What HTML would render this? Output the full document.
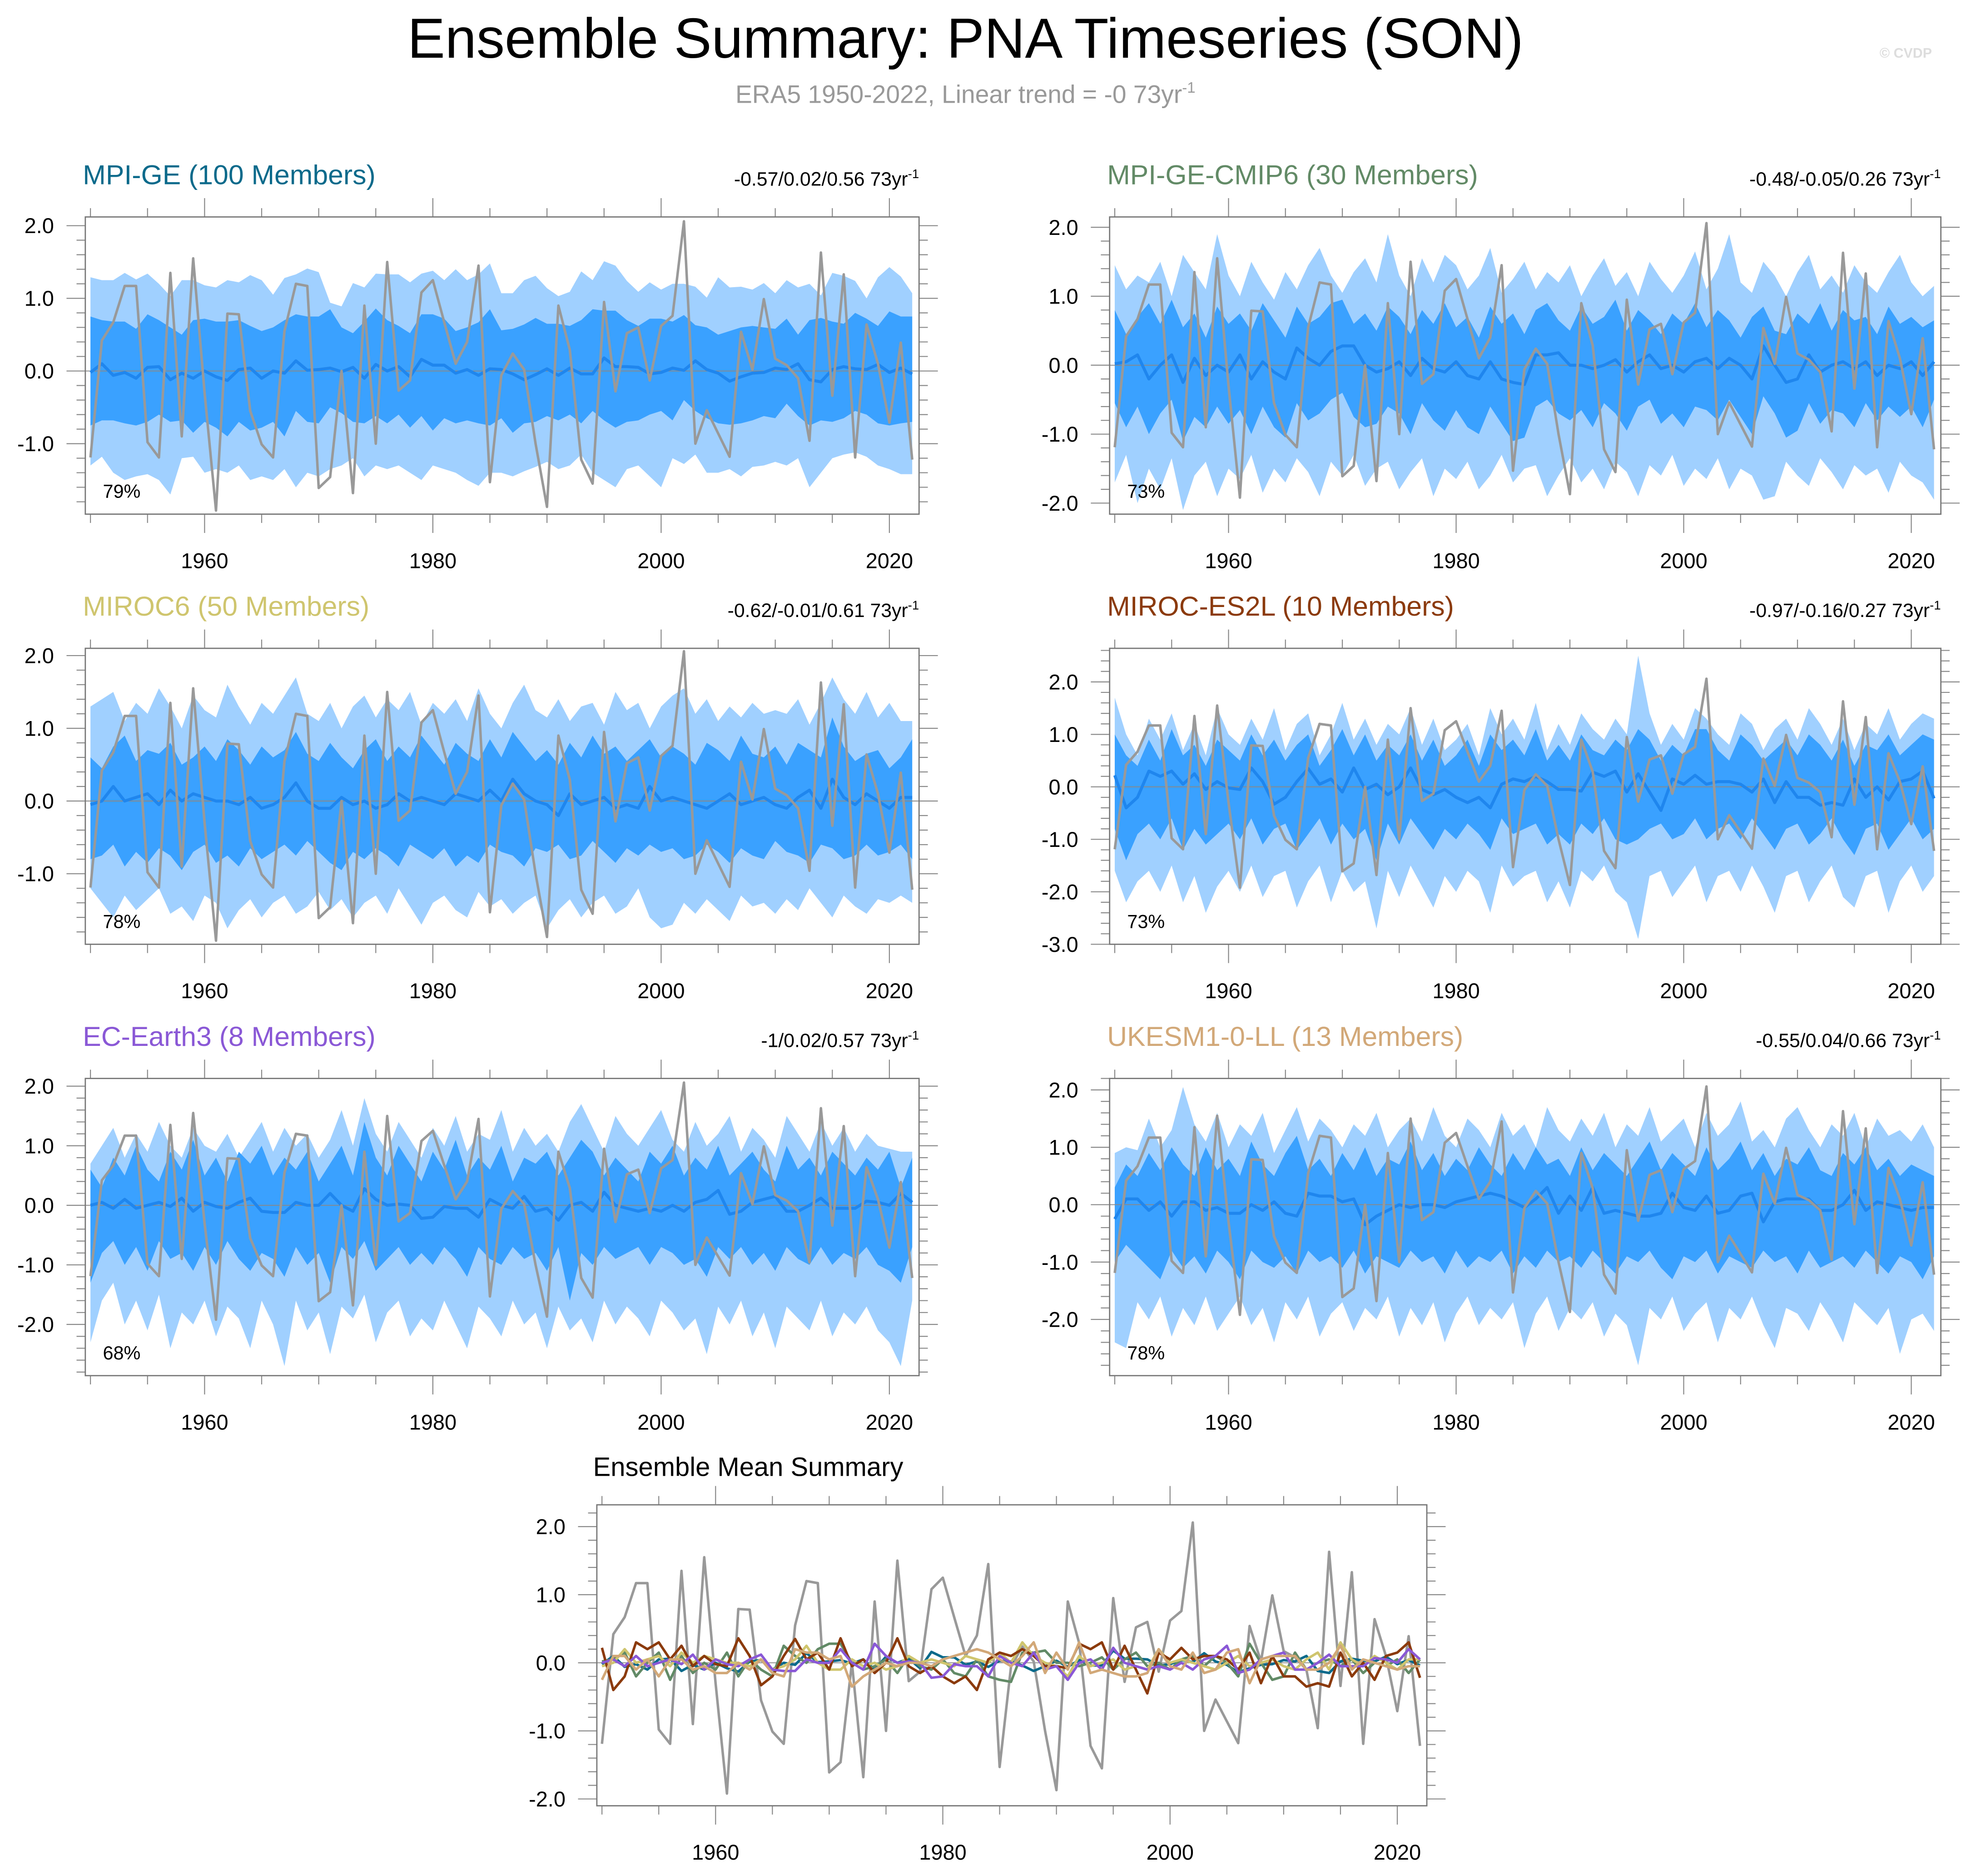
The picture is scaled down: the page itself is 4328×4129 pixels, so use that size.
<!DOCTYPE html>
<html><head><meta charset="utf-8"><title>PNA Timeseries</title>
<style>html,body{margin:0;padding:0;background:#fff}svg{display:block}text{font-family:"Liberation Sans",sans-serif}</style>
</head><body>
<svg id="chart" xmlns="http://www.w3.org/2000/svg" width="4328" height="4129" viewBox="0 0 1568 1496">
<rect x="0" y="0" width="1568" height="1496" fill="#fff"/>
<text x="770" y="46" font-size="45" text-anchor="middle" fill="#000">Ensemble Summary: PNA Timeseries (SON)</text>
<text x="770" y="82" font-size="20" text-anchor="middle" fill="#999">ERA5 1950-2022, Linear trend = -0 73yr<tspan dy="-8" font-size="12">-1</tspan></text>
<text x="1520" y="46" font-size="11" font-weight="bold" text-anchor="middle" fill="#ddd">© CVDP</text>
</svg>
<script>
const years = [];
for (let y = 1950; y <= 2022; y++) years.push(y);
const xTicks = [1960, 1980, 2000, 2020];
const era5 = [-1.19,0.42,0.67,1.17,1.17,-0.98,-1.19,1.35,-0.9,1.55,
-0.3,-1.92,0.79,0.78,-0.55,-1.01,-1.19,0.55,1.2,1.17,
-1.61,-1.46,0.0,-1.68,0.9,-1.0,1.5,-0.27,-0.13,1.08,
1.25,0.67,0.1,0.4,1.45,-1.53,-0.06,0.24,0.02,-1.0,
-1.87,0.9,0.29,-1.22,-1.55,0.95,-0.28,0.52,0.6,-0.13,
0.62,0.76,2.06,-1.0,-0.54,-0.86,-1.18,0.54,0.02,0.99,
0.17,0.08,-0.1,-0.96,1.63,-0.34,1.33,-1.19,0.64,0.1,
-0.71,0.39,-1.22];

// MPI-GE
const p1Mean = [-0.02,0.1,-0.06,-0.02,-0.1,0.05,0.06,-0.12,-0.03,-0.1,0,-0.08,-0.13,0.02,0.04,-0.1,0,-0.03,0.14,0.01,0.02,0.04,-0.01,0.05,-0.1,0.09,0,0.06,-0.08,0.16,0.08,0.08,-0.03,0.02,-0.06,0.03,0.02,-0.04,-0.12,-0.05,0.03,-0.06,0.04,-0.04,-0.04,0.18,0.06,0.06,0.05,-0.04,-0.02,0.04,0.01,0.14,0.02,-0.03,-0.14,-0.08,-0.03,-0.02,0.04,0.02,0.1,-0.12,-0.15,0.02,0.06,0.03,0.02,0.09,-0.02,0.04,-0.04];
const p1OutHi = [1.29,1.25,1.25,1.35,1.26,1.34,1.2,1.03,1.25,1.25,1.18,1.15,1.25,1.22,1.32,1.25,1.05,1.28,1.33,1.41,1.36,0.94,0.89,1.21,1.15,1.34,1.33,1.33,1.22,1.34,1.38,1.25,1.4,1.25,1.33,1.48,1.07,1.07,1.25,1.31,1.14,1.03,1.09,1.37,1.25,1.51,1.45,1.24,1.09,1.22,1.12,1.2,1.2,1.16,1.01,1.29,1.15,1.16,1.12,1.21,1.07,1.25,1.15,1.2,1.04,1.35,1.31,1.24,1.0,1.29,1.43,1.3,1.07];
const p1InHi = [0.75,0.7,0.68,0.68,0.58,0.78,0.7,0.6,0.5,0.7,0.72,0.68,0.68,0.7,0.62,0.55,0.6,0.7,0.78,0.75,0.75,0.85,0.6,0.52,0.68,0.86,0.7,0.62,0.52,0.78,0.78,0.72,0.55,0.6,0.67,0.85,0.56,0.58,0.64,0.73,0.65,0.65,0.62,0.7,0.85,0.83,0.83,0.7,0.62,0.72,0.72,0.68,0.77,0.63,0.6,0.5,0.55,0.6,0.62,0.6,0.58,0.72,0.5,0.7,0.73,0.68,0.65,0.8,0.72,0.62,0.82,0.75,0.75];
const p1InLo = [-0.75,-0.68,-0.68,-0.72,-0.75,-0.7,-0.6,-0.7,-0.68,-0.85,-0.7,-0.78,-0.9,-0.7,-0.82,-0.78,-0.7,-0.9,-0.55,-0.7,-0.72,-0.5,-0.58,-0.7,-0.72,-0.62,-0.72,-0.6,-0.78,-0.62,-0.82,-0.65,-0.72,-0.68,-0.72,-0.75,-0.65,-0.85,-0.72,-0.7,-0.62,-0.68,-0.6,-0.72,-0.55,-0.68,-0.78,-0.7,-0.68,-0.6,-0.55,-0.68,-0.4,-0.55,-0.65,-0.72,-0.74,-0.72,-0.68,-0.62,-0.65,-0.45,-0.62,-0.75,-0.68,-0.7,-0.65,-0.55,-0.6,-0.72,-0.75,-0.72,-0.7];
const p1OutLo = [-1.3,-1.18,-1.4,-1.5,-1.45,-1.42,-1.5,-1.7,-1.2,-1.18,-1.4,-1.35,-1.4,-1.3,-1.5,-1.45,-1.5,-1.35,-1.6,-1.4,-1.45,-1.35,-1.3,-1.2,-1.45,-1.3,-1.35,-1.3,-1.4,-1.5,-1.3,-1.35,-1.4,-1.5,-1.58,-1.4,-1.4,-1.45,-1.38,-1.32,-1.25,-1.35,-1.3,-1.15,-1.4,-1.5,-1.6,-1.35,-1.3,-1.45,-1.6,-1.2,-1.28,-1.15,-1.4,-1.4,-1.35,-1.45,-1.32,-1.3,-1.25,-1.3,-1.2,-1.6,-1.4,-1.2,-1.15,-1.12,-1.18,-1.3,-1.35,-1.42,-1.42];

// MPI-GE-CMIP6
const p2Mean = [0.02,0.05,0.15,-0.2,0.0,0.15,-0.25,0.1,-0.15,0.0,-0.1,0.15,-0.2,0.05,-0.1,-0.2,0.25,0.1,0.0,0.2,0.28,0.28,0.0,-0.1,-0.05,0.05,-0.15,0.1,-0.05,-0.1,0.05,-0.15,-0.2,0.05,-0.2,-0.25,-0.28,0.15,0.15,0.18,0.0,0.0,-0.05,0.0,0.08,-0.1,0.05,0.15,-0.05,0.0,-0.1,0.05,0.1,-0.05,0.1,0.0,-0.2,0.28,0.0,-0.25,-0.2,0.15,-0.1,0.0,0.05,-0.05,0.05,-0.15,0.0,-0.05,0.05,-0.15,0.05];
const p2OutHi = [1.45,1.1,1.3,1.2,1.5,1.0,1.6,1.35,1.1,1.9,1.3,1.0,1.5,1.2,0.95,1.35,1.1,1.45,1.7,1.3,1.05,1.35,1.55,1.2,1.9,1.3,1.0,1.55,1.2,1.6,1.45,1.1,1.3,1.7,1.05,1.25,1.5,1.1,1.35,1.2,1.45,1.0,1.3,1.55,1.15,1.35,1.0,1.5,1.25,1.05,1.3,1.65,1.1,1.4,1.9,1.2,1.05,1.5,1.3,1.0,1.35,1.6,1.1,1.3,1.05,1.45,1.2,1.05,1.35,1.6,1.2,1.0,1.15];
const p2InHi = [0.8,0.45,0.7,0.9,0.6,0.95,0.55,0.75,0.4,0.85,0.6,0.75,0.5,0.9,0.65,0.4,0.85,0.6,0.7,0.9,0.95,0.6,0.75,0.5,0.85,0.7,0.45,0.8,0.6,0.9,0.55,0.7,0.4,0.85,0.6,0.75,0.45,0.8,0.9,0.65,0.5,0.85,0.6,0.7,0.95,0.5,0.8,0.65,0.45,0.75,0.6,0.9,0.55,0.8,0.65,0.4,0.7,0.85,0.5,0.45,0.75,0.6,0.9,0.5,0.8,0.65,0.7,0.45,0.85,0.6,0.7,0.55,0.65];
const p2InLo = [-0.55,-0.9,-0.6,-1.0,-0.7,-0.5,-1.1,-0.75,-0.9,-0.6,-0.85,-0.65,-1.0,-0.6,-0.9,-1.05,-0.55,-0.8,-0.7,-0.5,-0.4,-0.75,-0.9,-0.85,-0.6,-0.7,-1.0,-0.55,-0.8,-0.95,-0.65,-0.9,-1.0,-0.6,-0.85,-1.1,-1.05,-0.6,-0.5,-0.7,-0.8,-0.65,-0.9,-0.55,-0.7,-0.95,-0.6,-0.5,-0.85,-0.7,-0.9,-0.6,-0.65,-0.8,-0.5,-0.75,-1.0,-0.45,-0.7,-1.05,-0.95,-0.55,-0.85,-0.65,-0.7,-0.9,-0.55,-0.8,-0.6,-0.75,-0.6,-0.9,-0.5];
const p2OutLo = [-1.7,-1.3,-2.0,-1.5,-1.8,-1.35,-2.1,-1.6,-1.4,-1.9,-1.5,-1.65,-1.3,-1.85,-1.5,-1.7,-1.35,-1.55,-1.9,-1.4,-1.6,-1.3,-1.75,-1.5,-1.4,-1.8,-1.55,-1.35,-1.9,-1.5,-1.65,-1.4,-1.8,-1.6,-1.3,-1.7,-1.5,-1.45,-1.9,-1.6,-1.35,-1.7,-1.5,-1.8,-1.4,-1.55,-1.9,-1.45,-1.6,-1.3,-1.75,-1.5,-1.65,-1.35,-1.8,-1.5,-1.6,-1.95,-1.9,-1.4,-1.6,-1.75,-1.35,-1.55,-1.8,-1.45,-1.6,-1.5,-1.85,-1.4,-1.6,-1.7,-1.95];

// MIROC6
const p3Mean = [-0.05,0.0,0.2,0.0,0.05,0.1,-0.05,0.15,0.0,0.1,0.05,0.0,0.0,-0.05,0.05,-0.1,-0.05,0.05,0.25,0.0,-0.1,-0.1,0.05,-0.05,0.0,-0.1,-0.05,0.1,0.0,0.05,0.0,-0.05,0.1,0.05,0.0,0.15,0.0,0.3,0.1,0.0,-0.05,-0.2,0.1,-0.05,0.0,0.05,-0.1,-0.05,-0.1,0.2,0.0,0.05,0.0,-0.05,-0.1,0.0,0.1,-0.05,0.0,0.05,-0.05,-0.1,0.05,0.15,-0.1,0.3,0.05,-0.05,0.1,0.0,-0.1,0.05,0.05];
const p3OutHi = [1.3,1.4,1.5,1.1,1.35,1.2,1.55,1.3,1.0,1.45,1.25,1.15,1.6,1.3,1.05,1.35,1.2,1.45,1.7,1.2,1.1,1.35,1.0,1.3,1.45,1.15,1.4,1.25,1.5,1.05,1.35,1.2,1.4,1.1,1.55,1.2,1.0,1.35,1.6,1.25,1.15,1.4,1.1,1.3,1.35,1.05,1.5,1.25,1.35,1.0,1.3,1.45,1.55,1.2,1.4,1.1,1.3,1.15,1.35,1.2,1.25,1.2,1.4,1.05,1.35,1.7,1.4,1.2,1.5,1.15,1.35,1.1,1.1];
const p3InHi = [0.6,0.45,0.75,0.9,0.55,0.7,0.65,0.8,0.5,0.6,0.75,0.55,0.85,0.7,0.5,0.75,0.6,0.7,0.95,0.65,0.55,0.8,0.6,0.45,0.7,0.85,0.55,0.75,0.6,0.9,0.7,0.5,0.8,0.65,0.55,0.85,0.6,0.95,0.75,0.55,0.7,0.5,0.8,0.6,0.9,0.65,0.75,0.55,0.7,0.85,0.6,0.75,0.65,0.5,0.8,0.7,0.55,0.9,0.65,0.6,0.75,0.5,0.8,0.7,0.6,1.15,0.75,0.55,0.65,0.7,0.45,0.6,0.85];
const p3InLo = [-0.8,-0.75,-0.6,-0.9,-0.7,-0.85,-0.65,-0.75,-0.95,-0.7,-0.6,-0.85,-0.75,-0.9,-0.65,-0.8,-0.7,-0.6,-0.75,-0.55,-0.7,-0.85,-0.95,-0.7,-0.8,-0.65,-0.75,-0.9,-0.6,-0.7,-0.8,-0.65,-0.9,-0.75,-0.85,-0.6,-0.7,-0.75,-0.9,-0.65,-0.7,-0.6,-0.8,-0.75,-0.55,-0.7,-0.85,-0.65,-0.75,-0.6,-0.7,-0.65,-0.8,-0.75,-0.6,-0.7,-0.85,-0.65,-0.75,-0.8,-0.55,-0.7,-0.75,-0.85,-0.6,-0.65,-0.8,-0.75,-0.6,-0.75,-0.7,-0.6,-0.8];
const p3OutLo = [-1.2,-1.4,-1.6,-1.3,-1.5,-1.35,-1.2,-1.55,-1.45,-1.65,-1.3,-1.4,-1.75,-1.5,-1.35,-1.6,-1.4,-1.3,-1.55,-1.45,-1.25,-1.5,-1.35,-1.6,-1.4,-1.3,-1.55,-1.2,-1.45,-1.7,-1.4,-1.3,-1.5,-1.6,-1.25,-1.45,-1.35,-1.55,-1.4,-1.3,-1.75,-1.5,-1.35,-1.6,-1.4,-1.3,-1.55,-1.45,-1.2,-1.6,-1.75,-1.7,-1.4,-1.55,-1.35,-1.5,-1.65,-1.3,-1.45,-1.4,-1.55,-1.35,-1.5,-1.2,-1.4,-1.6,-1.3,-1.45,-1.55,-1.35,-1.4,-1.3,-1.4];

// MIROC-ES2L
const p4Mean = [0.22,-0.4,-0.2,0.3,0.2,0.3,0.05,0.25,-0.05,0.1,-0.02,-0.05,0.36,0.1,-0.33,-0.2,0.1,0.35,0.05,0.15,-0.1,0.36,-0.05,0.05,-0.15,0.0,0.36,-0.05,-0.15,-0.05,-0.2,-0.3,-0.2,-0.4,0.05,0.15,0.1,0.2,0.1,-0.05,-0.05,-0.08,0.28,0.2,0.3,-0.1,0.25,-0.1,-0.45,0.15,0.05,0.22,0.05,0.1,0.1,0.05,-0.1,0.15,-0.3,0.1,-0.2,-0.2,-0.35,-0.3,-0.35,0.15,-0.2,0.0,-0.25,0.1,0.15,0.3,-0.22];
const p4OutHi = [1.7,1.0,0.6,1.3,0.9,1.4,0.7,1.2,0.6,1.5,1.0,0.8,1.3,0.9,1.5,0.7,1.2,1.4,0.6,1.0,1.6,0.9,1.3,0.8,1.2,1.0,1.5,0.8,1.3,0.7,0.9,1.2,0.6,1.5,1.0,1.3,0.9,1.6,0.7,1.2,0.8,1.4,1.1,0.9,1.3,1.0,2.5,1.4,0.8,1.2,0.9,1.5,1.3,1.0,0.8,1.4,1.2,0.7,1.1,1.3,0.9,1.5,1.2,0.8,1.3,0.7,1.2,1.0,1.5,0.9,1.2,1.4,1.3];
const p4InHi = [1.0,0.6,0.4,0.9,0.5,1.1,0.6,0.8,0.4,0.9,0.7,0.5,1.0,0.6,0.9,0.5,0.8,1.0,0.4,0.7,1.1,0.6,1.0,0.5,0.8,0.6,1.0,0.5,0.9,0.4,0.6,0.9,0.4,1.0,0.7,0.9,0.6,1.1,0.5,0.8,0.5,1.0,0.7,0.6,0.9,0.7,1.1,0.9,0.5,0.8,0.6,1.1,1.1,0.7,0.5,1.0,0.8,0.5,0.7,0.9,0.6,1.0,0.8,0.5,0.9,0.4,0.8,0.7,1.0,0.6,0.8,1.0,0.9];
const p4InLo = [-0.8,-1.4,-0.9,-0.7,-1.0,-0.6,-1.2,-0.8,-1.1,-0.9,-0.7,-1.0,-0.6,-1.1,-0.8,-0.7,-1.2,-0.9,-0.6,-1.1,-0.7,-1.0,-0.8,-1.4,-0.7,-1.1,-0.6,-0.9,-1.2,-0.8,-1.0,-0.7,-0.9,-1.2,-0.6,-0.9,-0.8,-0.7,-1.1,-0.9,-1.1,-0.7,-0.9,-0.6,-1.0,-1.1,-1.0,-0.8,-0.7,-1.0,-0.9,-0.6,-1.0,-0.8,-0.7,-1.0,-0.6,-0.9,-1.2,-0.8,-0.7,-1.1,-0.9,-0.6,-1.0,-1.3,-0.8,-0.7,-1.2,-0.9,-0.6,-1.0,-0.8];
const p4OutLo = [-1.6,-2.2,-1.8,-1.6,-2.0,-1.5,-2.2,-1.7,-2.4,-1.9,-1.6,-2.0,-1.5,-2.1,-1.7,-1.6,-2.3,-1.8,-1.5,-2.2,-1.6,-2.0,-1.8,-2.7,-1.6,-2.1,-1.5,-1.9,-2.3,-1.7,-2.0,-1.6,-1.8,-2.4,-1.5,-1.9,-1.7,-1.6,-2.2,-1.8,-2.3,-1.6,-1.8,-1.5,-2.0,-2.2,-2.9,-1.7,-1.6,-2.1,-1.8,-1.5,-2.2,-1.7,-1.6,-2.0,-1.5,-1.9,-2.4,-1.7,-1.6,-2.2,-1.8,-1.5,-2.1,-2.3,-1.7,-1.6,-2.4,-1.8,-1.5,-2.0,-1.7];

// EC-Earth3
const p5Mean = [0.0,0.05,-0.05,0.1,-0.05,0.0,0.05,-0.02,0.12,-0.1,0.05,-0.02,-0.05,0.05,0.12,-0.1,-0.12,-0.12,0.05,0.0,0.0,0.2,0.0,-0.1,0.28,0.1,0.0,0.02,0.0,-0.22,-0.2,-0.02,-0.05,-0.05,-0.2,0.1,0.0,-0.05,0.15,-0.1,-0.05,-0.25,0.0,0.05,-0.1,0.22,0.0,-0.05,-0.1,-0.05,-0.1,0.0,-0.1,0.05,0.1,0.25,-0.15,-0.1,0.05,0.1,0.15,-0.1,-0.1,0.0,0.12,-0.05,-0.05,-0.05,0.07,0.05,0.0,0.2,0.05];
const p5OutHi = [0.7,1.0,1.3,0.8,1.2,0.9,1.4,1.0,0.8,1.3,1.0,0.9,1.2,0.8,1.1,1.4,0.9,1.3,1.0,1.2,0.8,1.1,1.6,1.0,1.8,1.2,0.9,1.4,1.1,0.8,1.3,1.0,1.5,0.9,1.2,1.1,1.6,0.9,1.3,1.0,1.2,0.9,1.4,1.7,1.3,0.9,1.5,1.2,1.0,1.3,1.6,1.1,0.9,1.4,1.0,1.2,1.5,0.9,1.3,1.1,0.8,1.5,1.2,0.9,1.4,1.0,1.3,0.9,1.2,1.0,0.95,0.9,0.9];
const p5InHi = [0.6,0.3,0.8,0.5,1.0,0.6,0.4,0.9,0.6,1.1,0.5,0.8,0.4,0.9,0.7,1.0,0.5,0.8,0.6,0.9,0.4,0.7,1.0,0.5,1.4,0.8,0.5,1.0,0.7,0.4,0.9,0.6,1.1,0.5,0.8,0.6,1.0,0.4,0.8,0.7,0.9,0.5,0.8,1.1,0.9,0.5,0.8,0.6,0.4,0.9,0.7,1.0,0.5,0.8,0.6,1.0,0.5,0.7,0.9,0.6,0.4,1.0,0.6,0.8,0.5,0.9,0.7,0.5,0.8,0.6,0.9,0.3,0.8];
const p5InLo = [-1.3,-0.8,-0.6,-1.0,-0.7,-1.1,-0.6,-0.9,-0.8,-1.1,-0.7,-1.0,-0.6,-0.9,-1.1,-0.8,-0.9,-1.2,-0.7,-1.0,-0.8,-1.3,-0.7,-0.9,-0.6,-1.1,-0.9,-0.7,-1.0,-0.8,-1.0,-0.7,-0.9,-1.2,-0.7,-0.9,-1.0,-0.7,-0.9,-0.8,-1.1,-0.7,-1.6,-0.8,-1.0,-0.7,-0.9,-0.8,-0.7,-1.0,-0.7,-0.8,-1.0,-0.9,-1.2,-0.7,-0.9,-0.7,-1.0,-0.8,-1.1,-0.7,-0.9,-1.0,-0.7,-1.0,-0.8,-0.9,-0.7,-1.0,-1.1,-1.3,-0.7];
const p5OutLo = [-2.3,-1.6,-1.3,-2.0,-1.6,-2.1,-1.5,-2.4,-1.8,-2.0,-1.6,-2.2,-1.7,-1.9,-2.4,-1.6,-2.0,-2.7,-1.6,-2.1,-1.8,-2.5,-1.7,-1.9,-1.5,-2.3,-1.8,-1.6,-2.2,-1.9,-2.1,-1.6,-2.0,-2.4,-1.7,-1.9,-2.2,-1.6,-2.0,-1.8,-2.4,-1.7,-2.1,-1.9,-2.3,-1.6,-2.0,-1.7,-1.9,-2.2,-1.6,-1.8,-2.1,-1.9,-2.5,-1.7,-2.0,-1.6,-2.2,-1.8,-2.4,-1.7,-1.9,-2.1,-1.6,-2.2,-1.8,-2.0,-1.7,-2.1,-2.3,-2.7,-1.6];

// UKESM1-0-LL
const p6Mean = [-0.25,0.1,0.1,-0.1,0.05,-0.2,0.05,0.05,-0.1,-0.05,-0.15,-0.15,0.0,-0.1,0.05,-0.15,-0.2,0.2,0.15,0.15,0.05,0.1,-0.35,-0.2,-0.1,0.0,-0.05,0.0,0.0,-0.05,0.05,0.1,0.15,0.2,0.15,0.05,-0.05,0.1,0.3,-0.15,0.15,-0.1,0.3,-0.15,-0.1,-0.15,-0.2,-0.2,-0.15,0.2,-0.05,-0.1,0.15,-0.15,-0.1,0.15,0.2,-0.3,0.05,0.1,0.1,0.1,-0.1,-0.1,0.0,0.25,-0.1,0.05,0.0,-0.05,-0.1,-0.05,-0.05];
const p6OutHi = [0.9,1.0,0.95,1.5,1.0,1.3,2.05,1.4,1.1,1.6,1.0,1.4,1.2,1.6,0.9,1.3,1.7,1.1,1.5,1.3,1.0,1.4,1.2,1.6,1.0,1.3,1.5,1.1,1.7,1.2,1.0,1.5,1.3,1.0,1.6,1.2,1.4,1.0,1.7,1.3,1.1,1.5,1.2,1.6,1.0,1.4,1.2,1.7,1.1,1.3,1.5,1.0,1.6,1.2,1.4,1.8,1.1,1.3,1.0,1.5,1.7,1.3,1.0,1.4,1.2,1.6,1.0,1.5,1.2,1.3,1.1,1.4,1.0];
const p6InHi = [0.3,0.7,0.5,0.9,0.6,1.0,0.7,0.5,1.0,0.6,0.8,0.5,1.1,0.7,0.5,0.9,1.2,0.6,0.8,0.5,0.9,0.6,1.0,0.5,0.8,0.7,1.1,0.6,0.9,0.5,0.8,0.6,1.0,0.7,0.5,0.9,0.6,1.0,0.7,0.8,0.5,1.0,0.6,0.9,0.7,0.5,0.8,1.1,0.6,0.9,0.7,0.5,1.0,0.6,0.8,1.1,0.6,0.9,0.5,0.8,0.7,1.0,0.6,0.5,0.9,0.7,1.0,0.6,0.8,0.5,0.7,0.6,0.5];
const p6InLo = [-1.0,-0.7,-0.9,-1.1,-1.3,-0.8,-1.1,-0.9,-1.2,-0.8,-1.0,-1.3,-0.8,-1.0,-1.1,-0.9,-1.2,-0.8,-1.0,-0.9,-1.1,-0.8,-1.2,-0.9,-1.0,-1.1,-0.8,-1.0,-0.9,-1.2,-0.8,-1.1,-0.9,-1.0,-0.8,-1.2,-0.9,-1.1,-0.8,-1.0,-0.9,-1.1,-0.8,-1.0,-1.2,-0.9,-1.0,-0.8,-1.1,-1.3,-0.9,-1.0,-0.8,-1.2,-0.9,-1.0,-1.1,-0.8,-1.0,-0.9,-1.2,-0.8,-1.1,-1.0,-0.9,-1.1,-0.8,-1.0,-1.2,-0.9,-1.0,-1.3,-0.9];
const p6OutLo = [-2.4,-2.5,-1.7,-2.0,-1.6,-2.3,-1.8,-2.1,-1.6,-2.2,-1.9,-1.6,-2.1,-1.8,-2.4,-1.7,-2.0,-1.6,-2.3,-1.9,-1.7,-2.2,-1.8,-2.0,-1.6,-2.3,-1.8,-2.1,-1.7,-2.4,-1.9,-1.6,-2.1,-1.8,-2.0,-1.7,-2.5,-1.9,-1.6,-2.2,-1.8,-2.0,-1.7,-2.3,-1.9,-2.1,-2.8,-1.8,-2.0,-1.6,-2.2,-1.9,-1.7,-2.4,-1.8,-2.0,-1.6,-2.1,-2.5,-1.8,-1.9,-2.2,-1.7,-2.0,-2.4,-1.7,-1.9,-2.1,-1.8,-2.6,-2.0,-1.9,-2.2];

const modelNames = ["MPI-GE (100 Members)","MPI-GE-CMIP6 (30 Members)","MIROC6 (50 Members)","MIROC-ES2L (10 Members)","EC-Earth3 (8 Members)","UKESM1-0-LL (13 Members)"];
const modelTrends = ["-0.57/0.02/0.56 73yr","-0.48/-0.05/0.26 73yr","-0.62/-0.01/0.61 73yr","-0.97/-0.16/0.27 73yr","-1/0.02/0.57 73yr","-0.55/0.04/0.66 73yr"];
const modelPct = ["79%","73%","78%","73%","68%","78%"];
const modelColors = ["#0b6a8b","#628a66","#cfc56e","#8b3a0c","#8a58d6","#d2a878"];
const means = [p1Mean,p2Mean,p3Mean,p4Mean,p5Mean,p6Mean];
const inHi = [p1InHi,p2InHi,p3InHi,p4InHi,p5InHi,p6InHi];
const inLo = [p1InLo,p2InLo,p3InLo,p4InLo,p5InLo,p6InLo];
const outHi = [p1OutHi,p2OutHi,p3OutHi,p4OutHi,p5OutHi,p6OutHi];
const outLo = [p1OutLo,p2OutLo,p3OutLo,p4OutLo,p5OutLo,p6OutLo];
const yTicks1 = [-1,0,1,2];
const yTicks2 = [-2,-1,0,1,2];
const yTicks4 = [-3,-2,-1,0,1,2];

const NS = "http://www.w3.org/2000/svg";
const svg = document.getElementById("chart");
function mk(tag, attrs, parent) {
  const e = document.createElementNS(NS, tag);
  for (const k in attrs) e.setAttribute(k, attrs[k]);
  (parent || svg).appendChild(e);
  return e;
}
const panels = [
  {x:68,y:173,w:665,h:237,lo:-1.97,hi:2.12,ticks:yTicks1},
  {x:885,y:173,w:663,h:237,lo:-2.16,hi:2.15,ticks:yTicks2},
  {x:68,y:517,w:665,h:236,lo:-1.97,hi:2.1,ticks:yTicks1},
  {x:885,y:517,w:663,h:236,lo:-3.0,hi:2.64,ticks:yTicks4},
  {x:68,y:860,w:665,h:237,lo:-2.86,hi:2.13,ticks:yTicks2},
  {x:885,y:860,w:663,h:237,lo:-2.98,hi:2.2,ticks:yTicks2}
];
const X0 = 1949.55, X1 = 2022.6;
function makeAxes(p) {
  const sx = v => p.x + (v - X0) / (X1 - X0) * p.w;
  const sy = v => p.y + (p.hi - v) / (p.hi - p.lo) * p.h;
  return {sx, sy};
}
function drawFrame(p, g, ax) {
  const {sx, sy} = ax;
  for (let yr = 1950; yr <= 2020; yr += 5) {
    const major = (yr === 1960 || yr === 1980 || yr === 2000 || yr === 2020);
    const L = major ? 15 : 7;
    const t1 = mk("line", {x1:sx(yr),x2:sx(yr),y1:p.y,y2:p.y-L,stroke:"#888","stroke-width":0.8}, g);
    
    
    const t2 = mk("line", {x1:sx(yr),x2:sx(yr),y1:p.y+p.h,y2:p.y+p.h+L,stroke:"#888","stroke-width":0.8}, g);
    
    
  }
  for (let v = Math.ceil(p.lo*5)/5; v <= p.hi + 1e-6; v += 0.2) {
    const vv = Math.round(v*10)/10;
    const major = Math.abs(vv - Math.round(vv)) < 1e-6;
    const L = major ? 15 : 7;
    const t1 = mk("line", {x1:p.x,x2:p.x-L,y1:sy(vv),y2:sy(vv),stroke:"#888","stroke-width":0.8}, g);
    
    
    const t2 = mk("line", {x1:p.x+p.w,x2:p.x+p.w+L,y1:sy(vv),y2:sy(vv),stroke:"#888","stroke-width":0.8}, g);
    
    
  }
  p.ticks.forEach(v => {
    const t = mk("text", {x:p.x-25,y:sy(v)+6,"font-size":17,"text-anchor":"end",fill:"#000"}, g);
    t.textContent = v.toFixed(1);
    
    
  });
  xTicks.forEach(yr => {
    const t = mk("text", {x:sx(yr),y:p.y+p.h+43,"font-size":17,"text-anchor":"middle",fill:"#000"}, g);
    t.textContent = String(yr);
    
    
  });
  const b = mk("rect", {x:p.x,y:p.y,width:p.w,height:p.h,fill:"none",stroke:"#777","stroke-width":1}, g);
  
  
}
function linePts(arr, ax) { return arr.map((v,i) => ax.sx(years[i]).toFixed(2)+","+ax.sy(v).toFixed(2)).join(" "); }
function bandPts(hiA, loA, ax) {
  const a = hiA.map((v,i) => ax.sx(years[i]).toFixed(2)+","+ax.sy(v).toFixed(2));
  const b = loA.map((v,i) => ax.sx(years[i]).toFixed(2)+","+ax.sy(v).toFixed(2)).reverse();
  return a.concat(b).join(" ");
}
panels.forEach((p, k) => {
  const g = mk("g", {});
  
  
  const ax = makeAxes(p);
  const ob = mk("polygon", {points:bandPts(outHi[k], outLo[k], ax), fill:"#a0d0ff"}, g);
  
  
  const ib = mk("polygon", {points:bandPts(inHi[k], inLo[k], ax), fill:"#3aa1ff"}, g);
  
  
  const z = mk("line", {x1:p.x,x2:p.x+p.w,y1:ax.sy(0),y2:ax.sy(0),stroke:"#888","stroke-width":0.7}, g);
  
  
  const m = mk("polyline", {points:linePts(means[k], ax), fill:"none", stroke:"#1f86ee","stroke-width":2.4,"stroke-linejoin":"round"}, g);
  
  
  const e = mk("polyline", {points:linePts(era5, ax), fill:"none", stroke:"#999","stroke-width":2,"stroke-linejoin":"round"}, g);
  
  
  drawFrame(p, g, ax);
  const t = mk("text", {x:p.x-2,y:p.y-26,"font-size":22,fill:modelColors[k]}, g);
  t.textContent = modelNames[k];
  
  
  const tr = mk("text", {x:p.x+p.w,y:p.y-25,"font-size":15.5,"text-anchor":"end",fill:"#000"}, g);
  tr.textContent = modelTrends[k];
  const sup = mk("tspan", {dy:-6,"font-size":10}, tr);
  sup.textContent = "-1";
  
  
  const pc = mk("text", {x:p.x+14,y:p.y+p.h-13,"font-size":15,fill:"#000"}, g);
  pc.textContent = modelPct[k];
  
  
});
const pm = {x:476,y:1200,w:662,h:240,lo:-2.1,hi:2.32,ticks:yTicks2};
const gm = mk("g", {});


const axm = makeAxes(pm);
const zm = mk("line", {x1:pm.x,x2:pm.x+pm.w,y1:axm.sy(0),y2:axm.sy(0),stroke:"#888","stroke-width":0.7}, gm);


const em = mk("polyline", {points:linePts(era5, axm), fill:"none", stroke:"#999","stroke-width":2,"stroke-linejoin":"round"}, gm);


means.forEach((arr, k) => {
  const l = mk("polyline", {points:linePts(arr, axm), fill:"none", stroke:modelColors[k],"stroke-width":2,"stroke-linejoin":"round"}, gm);
  
  
});
drawFrame(pm, gm, axm);
const tm = mk("text", {x:473,y:1177,"font-size":21,fill:"#000"}, gm);
tm.textContent = "Ensemble Mean Summary";


</script>
</body></html>
